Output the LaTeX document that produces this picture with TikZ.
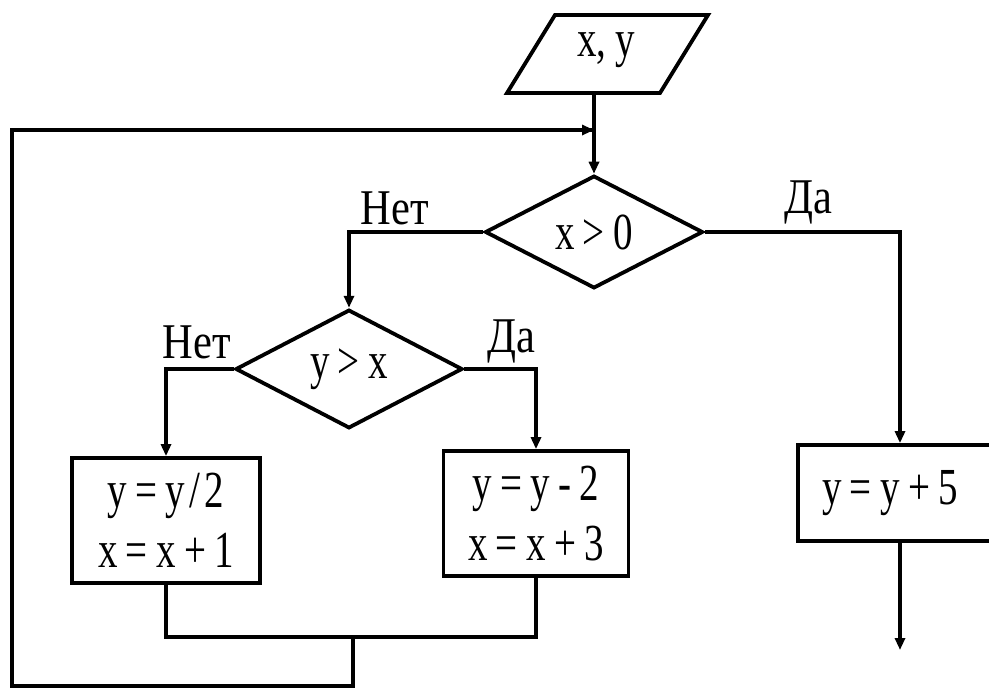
\documentclass[tikz,border=0pt]{standalone}
\usepackage{fontspec}
\setmainfont{Liberation Serif}
\newfontfamily\cf[FakeStretch=0.75]{Liberation Serif}
\newfontfamily\lf[FakeStretch=0.85]{Liberation Serif}
\usetikzlibrary{shapes.geometric,arrows.meta}
\newcommand\sq{\hspace{0.16em}}
\newcommand\hsq{\hspace{0.08em}}
\tikzset{
  ln/.style={line width=3.8pt},
  flow/.style={ln, -{Triangle[length=12pt,width=10pt]}},
  dec/.style={diamond, draw, ln, inner sep=0pt},
  box/.style={rectangle, draw, ln, inner sep=0pt, align=center},
  lab/.style={anchor=base, inner sep=0pt, font=\fontsize{50}{50}\lf},
  txt/.style={inner sep=0pt}
}
\begin{document}
\begin{tikzpicture}[x=1pt,y=-1pt,font=\fontsize{52}{60}\cf]
\useasboundingbox (0,0) rectangle (989,689);
\clip (0,0) rectangle (989,689);
\fill[white] (0,0) rectangle (989,689);

% input parallelogram
\draw[ln, line join=miter] (555,15) -- (708,15) -- (660,93) -- (507,93) -- cycle;
\node[txt] (in) at (606,50) {x,\sq y};
\coordinate (inb) at (594,93);

% decisions
\node[dec, minimum width=218pt, minimum height=107pt] (d1) at (594,232) {x\sq>\sq 0};
\node[dec, minimum width=227pt, minimum height=113pt] (d2) at (349,369) {y\sq>\sq x};

% process boxes
\node[box, minimum width=188pt, minimum height=125pt] (b1) at (166,520.5) {y\sq=\sq y\hsq/\hsq 2\\x\sq=\sq x\sq+\sq 1};
\node[box, minimum width=185pt, minimum height=125pt] (b2) at (536,513.5) {y\sq=\sq y\sq-\sq 2\\x\sq=\sq x\sq+\sq 3};
\node[box, minimum width=204pt, minimum height=96pt] (b3) at (900,493) {\hspace*{-20pt}y\sq=\sq y\sq+\sq 5};

% labels
\node[lab] (n1) at (395,224) {Нет};
\node[lab] (y1) at (808,213) {Да};
\node[lab] (n2) at (197,358) {Нет};
\node[lab] (y2) at (511,352) {Да};

% connectors
\draw[flow] (inb) -- (d1.north);
\draw[flow] (d1.west) -| (d2.north);
\draw[flow] (d1.east) -| (b3.north);
\draw[flow] (d2.west) -| (b1.north);
\draw[flow] (d2.east) -| (b2.north);
\coordinate (out) at (900,650);
\draw[flow] (b3.south) -- (out);

\coordinate (jm) at (353,637);
\draw[ln] (b1.south) |- (jm) -| (b2.south);
\coordinate (lp1) at (353,686);
\coordinate (lp2) at (12,686);
\coordinate (lp3) at (12,130);
\coordinate (lpin) at (594,130);
\draw[ln, line join=miter] (jm) -- (lp1) -- (lp2) -- (lp3) -- (lpin);
\draw[flow] (lp3) -- (lpin);
\end{tikzpicture}
\end{document}
